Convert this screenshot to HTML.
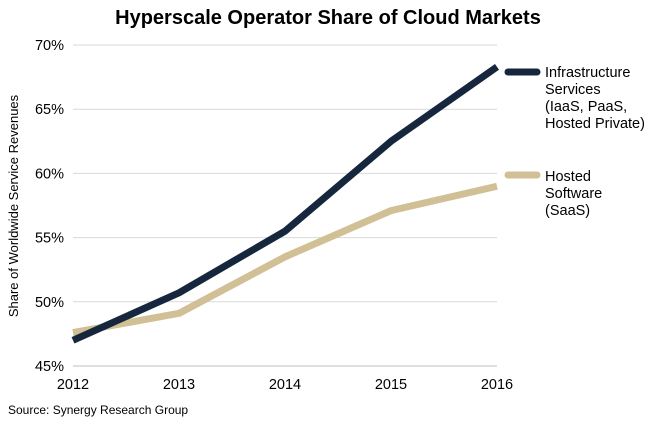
<!DOCTYPE html>
<html><head><meta charset="utf-8"><style>
body{margin:0;background:#fff;font-family:"Liberation Sans",Arial,sans-serif}
svg text{font-family:"Liberation Sans",Arial,sans-serif}
</style></head><body>
<svg id="c" width="657" height="418" xmlns="http://www.w3.org/2000/svg">
<text x="328" y="24" text-anchor="middle" font-size="20" font-weight="bold" fill="#000">Hyperscale Operator Share of Cloud Markets</text>
<text transform="translate(18,206) rotate(-90)" text-anchor="middle" font-size="13" fill="#000">Share of Worldwide Service Revenues</text>
<text x="8" y="414" font-size="12" fill="#000">Source: Synergy Research Group</text>
<g id="grid"></g><g id="ylab"></g><g id="xlab"></g><g id="series"></g>
<g>
<line x1="508" y1="72" x2="537" y2="72" stroke="#15263d" stroke-width="7" stroke-linecap="round"/>
<text font-size="14.5" fill="#000"><tspan x="545" y="77">Infrastructure</tspan><tspan x="545" y="94">Services</tspan><tspan x="545" y="111">(IaaS, PaaS,</tspan><tspan x="545" y="128">Hosted Private)</tspan></text>
<line x1="508" y1="175" x2="537" y2="175" stroke="#d1bf95" stroke-width="7" stroke-linecap="round"/>
<text font-size="14.5" fill="#000"><tspan x="545" y="181">Hosted</tspan><tspan x="545" y="198">Software</tspan><tspan x="545" y="215">(SaaS)</tspan></text>
</g>
</svg>
<script>
const years=["2012","2013","2014","2015","2016"];
const infra=[47.0,50.7,55.5,62.5,68.3];
const saas=[47.6,49.1,53.5,57.1,59.0];
const yTicks=[45,50,55,60,65,70];
const NS="http://www.w3.org/2000/svg";
const x=i=>73+i*106, y=v=>366-(v-45)*12.84;
function mk(t,a,p){const e=document.createElementNS(NS,t);for(const k in a)e.setAttribute(k,a[k]);p.appendChild(e);return e;}
const g=document.getElementById('grid'),yl=document.getElementById('ylab'),xl=document.getElementById('xlab'),s=document.getElementById('series');
yTicks.forEach(v=>{
 const l=mk('line',{x1:73,x2:497,y1:y(v),y2:y(v),stroke:v===45?'#bfbfbf':'#d9d9d9','stroke-width':1},g);
 
 
 const t=mk('text',{x:64,y:y(v)+5,'text-anchor':'end','font-size':14.5},yl);t.textContent=v+'%';
 
 
});
years.forEach((yr,i)=>{
 const t=mk('text',{x:x(i),y:389,'text-anchor':'middle','font-size':14.5},xl);t.textContent=yr;
 
 
});
function line(d,c,n){
 const p=mk('polyline',{points:d.map((v,i)=>x(i)+','+y(v)).join(' '),fill:'none',stroke:c,'stroke-width':7,'stroke-linejoin':'round'},s);
 
 
}
line(saas,'#d1bf95','line-saas');
line(infra,'#15263d','line-infrastructure');
</script>
</body></html>
